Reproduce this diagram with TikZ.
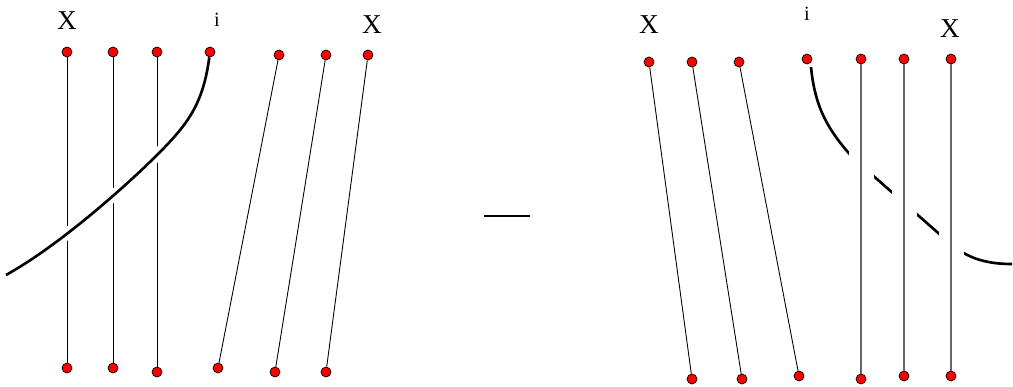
\documentclass[tikz,border=0pt]{standalone}
\usepackage{fontspec}
\setmainfont{Liberation Serif}
\providecommand{\PXu}{0.02}
\providecommand{\Xfont}{\fontsize{15.5}{16}\selectfont}
\providecommand{\Ifont}{\fontsize{11.5}{12}\selectfont}
\tikzset{
  dot/.style={circle, draw=black, fill=red, line width=0.4pt,
              inner sep=0pt, minimum size=0.2cm},
  strand/.style={draw=black, line width=0.5pt},
  grstrand/.style={draw=black!60, line width=0.75pt},
  overpass/.style={preaction={draw=white, line width=6.5pt}},
  underpass/.style={preaction={draw=white, line width=0.5cm}},
  moving/.style={draw=black, line width=1.5pt},
  xlab/.style={font=\Xfont, inner sep=0pt},
  ilab/.style={font=\Ifont, inner sep=0pt}
}
\begin{document}
\begin{tikzpicture}[x={\PXu cm}, y={-\PXu cm}]

\useasboundingbox (0,0) rectangle (1013,386);

% left braid
\foreach \n/\x/\y in {1/67/52, 2/113/52, 3/157/52, 4/210/52,
                      5/279/55, 6/326/55, 7/368/55}{
  \node (lt\n) [dot] at (\x,\y) {};
}
\foreach \n/\x/\y in {1/67/368, 2/113/368, 3/157/372,
                      4/218/368, 5/275/372, 6/326/372}{
  \node (lb\n) [dot] at (\x,\y) {};
}

\foreach \a/\b in {1/1, 2/2, 3/3, 5/4, 6/5, 7/6}{
  \draw[strand] (lt\a) -- (lb\b);
}

% strand i over the others
\coordinate (lend) at (6,275);
\draw[moving, overpass]
  (lt4) .. controls (203,105) and (187,125) .. (157,155)
        .. controls (127,185) and (60,245) .. (lend);

\node (lx1) [xlab] at (67,21) {X};
\node (li)  [ilab] at (217,20) {i};
\node (lx2) [xlab] at (372,25) {X};

% minus sign
\draw[line width=1.2pt] (484,216) -- (530,216);

% right braid
\foreach \n/\x/\y in {1/649/62, 2/692/62, 3/739/62, 4/807/59,
                      5/861/59, 6/904/59, 7/951/59}{
  \node (rt\n) [dot] at (\x,\y) {};
}
\foreach \n/\x/\y in {1/692/379, 2/742/379, 3/799/376,
                      4/861/379, 5/904/376, 6/951/376}{
  \node (rb\n) [dot] at (\x,\y) {};
}

\foreach \a/\b in {1/1, 2/2, 3/3}{
  \draw[strand] (rt\a) -- (rb\b);
}

% strand i under the others
\coordinate (rstart) at (811,67);
\coordinate (rend) at (1012,264);
\draw[moving]
  (rstart) .. controls (815,108) and (828,130) .. (853,158)
           -- (945,239)
           .. controls (960,252) and (975,264) .. (rend);

\draw[grstrand, underpass] (rt5) -- (rb4);
\draw[grstrand, underpass] (rt6) -- (rb5);
\draw[grstrand, underpass, line width=1pt] (rt7) -- (rb6);

\node (rx1) [xlab] at (649,25) {X};
\node (ri)  [ilab] at (807,14) {i};
\node (rx2) [xlab] at (950,29) {X};

\end{tikzpicture}
\end{document}
